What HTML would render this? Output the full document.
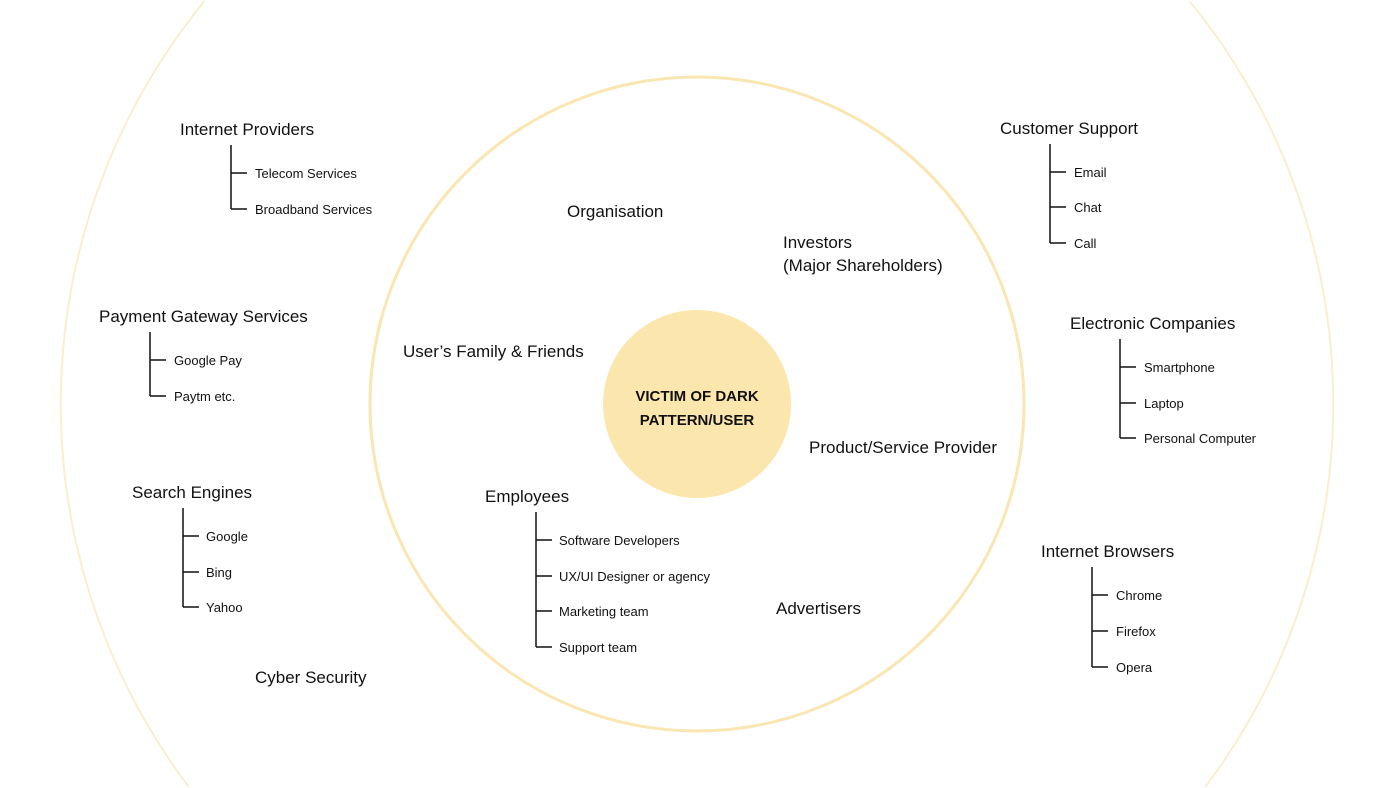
<!DOCTYPE html>
<html><head><meta charset="utf-8"><style>
html,body{margin:0;padding:0;background:#fff;width:1400px;height:788px;overflow:hidden;}
svg{display:block;overflow:hidden;}
text{font-family:"Liberation Sans",sans-serif;fill:#111;}
.m{font-size:17px;}
.s{font-size:13px;}
</style></head><body>
<svg width="1400" height="788" viewBox="0 0 1400 788" xmlns="http://www.w3.org/2000/svg">
<path d="M204.5 1 A637 637 0 0 0 188.8 787" fill="none" stroke="#f8efcf" stroke-width="2"/>
<path d="M1189.5 1 A637 637 0 0 1 1205.2 787" fill="none" stroke="#f8efcf" stroke-width="2"/>
<circle cx="697" cy="404" r="327" fill="none" stroke="#f9e6b2" stroke-width="3"/>
<circle cx="697" cy="404" r="94" fill="#fbe6ad"/>
<text x="697" y="401" text-anchor="middle" style="font-size:15px;font-weight:bold">VICTIM OF DARK</text>
<text x="697" y="425" text-anchor="middle" style="font-size:15px;font-weight:bold">PATTERN/USER</text>
<g stroke="#111" stroke-width="1.5" fill="none">
<path d="M231 145V209M231 173H247M231 209H247"/>
<path d="M150 332V396M150 360H166M150 396H166"/>
<path d="M183 508V607M183 536H199M183 572H199M183 607H199"/>
<path d="M536 512V647M536 540H552M536 576H552M536 611H552M536 647H552"/>
<path d="M1050 144V243M1050 172H1066M1050 207H1066M1050 243H1066"/>
<path d="M1120 339V438M1120 367H1136M1120 403H1136M1120 438H1136"/>
<path d="M1092 567V667M1092 595H1108M1092 631H1108M1092 667H1108"/>
</g>
<text class="m" x="180" y="135">Internet Providers</text>
<text class="s" x="255" y="178">Telecom Services</text>
<text class="s" x="255" y="214">Broadband Services</text>
<text class="m" x="99" y="322">Payment Gateway Services</text>
<text class="s" x="174" y="365">Google Pay</text>
<text class="s" x="174" y="401">Paytm etc.</text>
<text class="m" x="132" y="498">Search Engines</text>
<text class="s" x="206" y="541">Google</text>
<text class="s" x="206" y="577">Bing</text>
<text class="s" x="206" y="612">Yahoo</text>
<text class="m" x="255" y="683">Cyber Security</text>
<text class="m" x="567" y="217">Organisation</text>
<text class="m" x="783" y="248">Investors</text>
<text class="m" x="783" y="271">(Major Shareholders)</text>
<text class="m" x="403" y="357">User’s Family &amp; Friends</text>
<text class="m" x="809" y="453">Product/Service Provider</text>
<text class="m" x="485" y="502">Employees</text>
<text class="s" x="559" y="545">Software Developers</text>
<text class="s" x="559" y="581">UX/UI Designer or agency</text>
<text class="s" x="559" y="616">Marketing team</text>
<text class="s" x="559" y="652">Support team</text>
<text class="m" x="776" y="614">Advertisers</text>
<text class="m" x="1000" y="134">Customer Support</text>
<text class="s" x="1074" y="177">Email</text>
<text class="s" x="1074" y="212">Chat</text>
<text class="s" x="1074" y="248">Call</text>
<text class="m" x="1070" y="329">Electronic Companies</text>
<text class="s" x="1144" y="372">Smartphone</text>
<text class="s" x="1144" y="408">Laptop</text>
<text class="s" x="1144" y="443">Personal Computer</text>
<text class="m" x="1041" y="557">Internet Browsers</text>
<text class="s" x="1116" y="600">Chrome</text>
<text class="s" x="1116" y="636">Firefox</text>
<text class="s" x="1116" y="672">Opera</text>
</svg>
</body></html>
